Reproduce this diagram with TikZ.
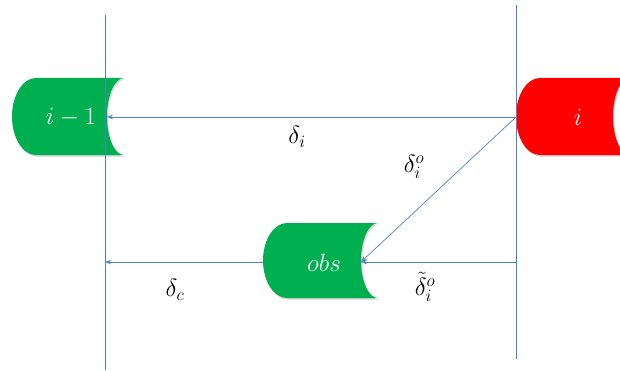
\documentclass[tikz,border=0pt]{standalone}
\usetikzlibrary{arrows.meta,shadows}
\definecolor{lineblue}{RGB}{79,129,201}
\definecolor{boxgreen}{RGB}{0,176,80}
\definecolor{boxred}{RGB}{255,0,0}
\tikzset{
  conn/.style={draw=lineblue, line width=0.7pt},
  arr/.style={conn, -{Stealth[length=6pt,width=4.5pt]}},
  guide/.style={draw=lineblue, line width=0.9pt},
  boxtext/.style={text=white, font=\fontsize{25}{30}\selectfont},
  lbl/.style={text=black, font=\fontsize{25}{30}\selectfont},
  store/.style={drop shadow={opacity=0.35, shadow xshift=1pt, shadow yshift=-1.5pt}}
}
% #1 fill, #2 left x, #3 right-corner x, #4 mid y, #5 half height, #6 left rx, #7 right rx
\newcommand{\storedshape}[7]{%
  \fill[#1, store] (#2+#6,#4+#5) arc[start angle=90, end angle=270, x radius=#6, y radius=#5]
    -- (#3,#4-#5) arc[start angle=270, end angle=90, x radius=#7, y radius=#5] -- cycle;}
\begin{document}
\begin{tikzpicture}[x=1pt,y=1pt]
\useasboundingbox (0,0) rectangle (620,370);
\begin{scope}
\clip (0,0) rectangle (620,370);
\storedshape{boxgreen}{12}{124}{253.5}{38.5}{24}{17}
\storedshape{boxred}{516}{630}{253.5}{38.5}{24}{17}
\storedshape{boxgreen}{263}{378}{109.5}{37.5}{24}{17}
\end{scope}
% anchors
\coordinate (prevport) at (107,253);
\coordinate (curport) at (516,253);
\coordinate (obsin) at (361,108);
\coordinate (obsout) at (263,108);
\coordinate (lowstart) at (516,108);
\coordinate (lowend) at (105,108);
\coordinate (vlt) at (105,355);
\coordinate (vlb) at (105,0);
\coordinate (vrt) at (516,365);
\coordinate (vrb) at (516,11);
% texts
\node[boxtext] (tprev) at (71,253) {$i-1$};
\node[boxtext] (tcur) at (578,253) {$i$};
\node[boxtext] (tobs) at (324,107) {$obs$};
% guides
\draw[guide] (vlt) -- (vlb);
\draw[guide] (vrt) -- (vrb);
% connectors
\draw[arr] (curport) -- (prevport);
\draw[arr] (curport) -- (obsin);
\draw[arr] (lowstart) -- (obsin);
\draw[arr] (obsout) -- (lowend);
% labels
\node[lbl] (ldi) at (297,233) {$\delta_i$};
\node[lbl] (ldio) at (414,203) {$\delta_i^o$};
\node[lbl] (ldt) at (425,83) {$\tilde{\delta}_i^o$};
\node[lbl] (ldc) at (175,80) {$\delta_c$};
\end{tikzpicture}
\end{document}
